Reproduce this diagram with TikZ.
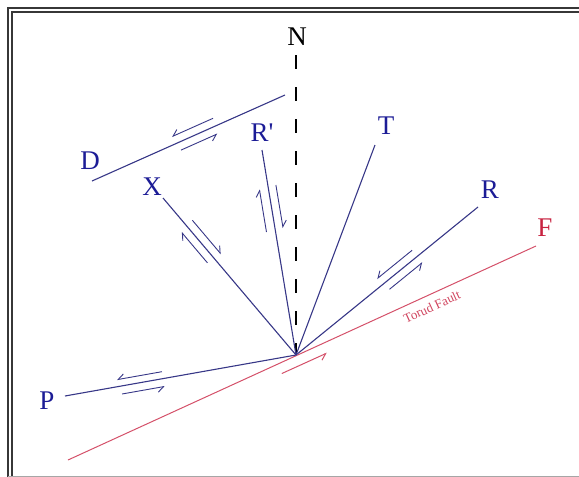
\documentclass[tikz,border=0pt]{standalone}
\usepackage{fontspec}
\setmainfont{Liberation Serif}
\usetikzlibrary{calc,arrows.meta}
\definecolor{lblue}{RGB}{28,28,150}
\definecolor{lineblue}{RGB}{55,55,135}
\definecolor{fred}{RGB}{200,35,65}
\definecolor{fline}{RGB}{212,80,105}
\definecolor{framecol}{RGB}{55,55,55}
\newcommand\slipmark[6]{\draw[#1] ($(#2)!#4!(#3)!#6!90:(#3)$) -- ($(#2)!#5!(#3)!#6!90:(#3)$);}
\begin{document}
\begin{tikzpicture}[x=1pt,y=-1pt,
  lbl/.style={font=\fontsize{27}{30}\selectfont, inner sep=0pt},
  bluelbl/.style={lbl, text=lblue},
  redlbl/.style={lbl, text=fred},
  fault/.style={draw=lineblue, line width=1.1pt},
  redline/.style={draw=fline, line width=1pt},
  nline/.style={draw=black, line width=1.4pt, dash pattern=on 14pt off 18pt},
  framel/.style={draw=framecol, line width=1.3pt},
  sense/.style={draw=lineblue, line width=0.9pt, -{Straight Barb[harpoon,length=6pt,width=9pt]}},
  sensesw/.style={draw=lineblue, line width=0.9pt, -{Straight Barb[harpoon,swap,length=6pt,width=9pt]}},
  redsense/.style={draw=fline, line width=1pt, -{Straight Barb[harpoon,swap,length=6pt,width=9pt]}},
  tfault/.style={font=\fontsize{13}{14}\selectfont, text=fred!85!white, inner sep=0pt},
]
\useasboundingbox (0,0) rectangle (579,477);
\begin{scope}
\clip (0,0) rectangle (579,477);
% frame
\draw[framel] (8,477) -- (8,8) -- (579,8);
\draw[framel] (12,477) -- (12,12) -- (579,12);
\draw[draw=gray!70, line width=1.2pt] (8,476.5) -- (579,476.5);
\end{scope}
% points
\coordinate (O) at (296,355);
\coordinate (Ntop) at (296,55);
\coordinate (Xe) at (163,198);
\coordinate (Rpe) at (262,150);
\coordinate (Te) at (375,145);
\coordinate (Re) at (478,207);
\coordinate (Pe) at (65,396);
\coordinate (Ds) at (92,181);
\coordinate (De) at (285,95);
\coordinate (Fs) at (68,460);
\coordinate (Fe) at (536,246);
% labels
\node[lbl] (N) at (297,37) {N};
\node[bluelbl] (D) at (90,161) {D};
\node[bluelbl] (X) at (152,187) {X};
\node[bluelbl] (Rp) at (262,133) {R\textquotesingle};
\node[bluelbl] (T) at (386,126) {T};
\node[bluelbl] (R) at (490,190) {R};
\node[redlbl] (F) at (545,228) {F};
\node[bluelbl] (P) at (47,401) {P};
% lines
\draw[nline] (Ntop) -- (O);
\draw[redline] (Fs) -- (Fe) node[pos=0.767, sloped, below=7pt, tfault] (TF) {Torud Fault};
\draw[fault] (O) -- (Xe);
\draw[fault] (O) -- (Rpe);
\draw[fault] (O) -- (Te);
\draw[fault] (O) -- (Re);
\draw[fault] (O) -- (Pe);
\draw[fault] (Ds) -- (De);
% sense-of-slip half arrows
\slipmark{sense}{O}{Xe}{0.62}{0.815}{8pt}
\slipmark{sense}{O}{Xe}{0.825}{0.61}{-8pt}
\slipmark{sense}{O}{Rpe}{0.607}{0.815}{9pt}
\slipmark{sense}{O}{Rpe}{0.823}{0.613}{-8pt}
\slipmark{sensesw}{O}{Re}{0.666}{0.473}{8pt}
\slipmark{sensesw}{O}{Re}{0.486}{0.667}{-8pt}
\slipmark{sensesw}{O}{Pe}{0.575}{0.770}{-7pt}
\slipmark{sensesw}{O}{Pe}{0.759}{0.574}{8pt}
\slipmark{sensesw}{Ds}{De}{0.644}{0.431}{8pt}
\slipmark{sensesw}{Ds}{De}{0.444}{0.633}{-8pt}
\slipmark{redsense}{O}{Fe}{-0.078}{0.11}{-11pt}
\end{tikzpicture}
\end{document}
